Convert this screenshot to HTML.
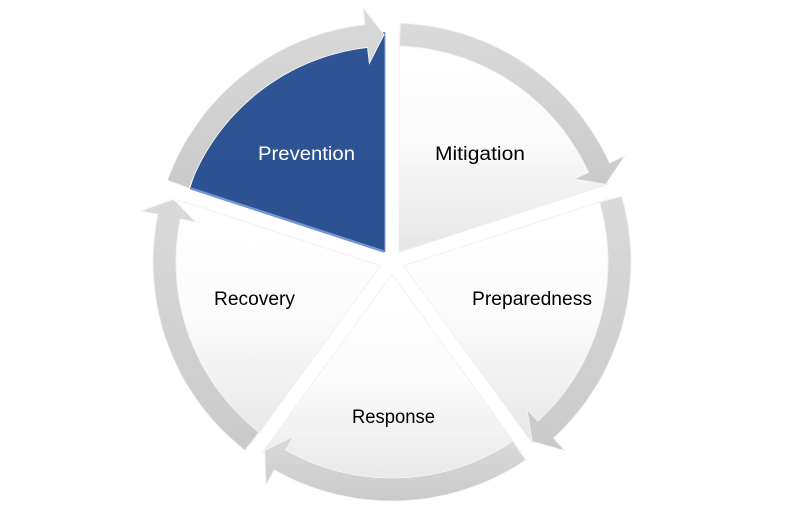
<!DOCTYPE html>
<html>
<head>
<meta charset="utf-8">
<style>
  html, body { margin:0; padding:0; background:#ffffff; }
  body { width:786px; height:524px; overflow:hidden; }
  svg { display:block; }
  text { font-family:"Liberation Sans", sans-serif; font-size:19px; }
</style>
</head>
<body>
<svg width="786" height="524" viewBox="0 0 786 524" xmlns="http://www.w3.org/2000/svg">
  <defs>
    <linearGradient id="lg" x1="0" y1="0" x2="0" y2="1">
      <stop offset="0" stop-color="#ffffff"/>
      <stop offset="0.5" stop-color="#fbfbfb"/>
      <stop offset="1" stop-color="#e6e6e6"/>
    </linearGradient>
    <linearGradient id="ag" x1="0" y1="0" x2="0" y2="1">
      <stop offset="0" stop-color="#dadada"/>
      <stop offset="1" stop-color="#cacaca"/>
    </linearGradient>
    <linearGradient id="bg" x1="0" y1="0" x2="0" y2="1">
      <stop offset="0" stop-color="#2f5597"/>
      <stop offset="1" stop-color="#2c5191"/>
    </linearGradient>
  </defs>

  <rect width="786" height="524" fill="#ffffff"/>

  <!-- wedges -->
  <path d="M399.05,252.29 L399.05,32.29 A220,220 0 0 1 608.28,184.31 Z" fill="url(#lg)" stroke="#efefef" stroke-width="0.8"/>
  <path d="M403.41,265.71 L612.64,197.73 A220,220 0 0 1 532.72,443.69 Z" fill="url(#lg)" stroke="#efefef" stroke-width="0.8"/>
  <path d="M392,274 L521.31,451.98 A220,220 0 0 1 262.69,451.98 Z" fill="url(#lg)" stroke="#efefef" stroke-width="0.8"/>
  <path d="M380.59,265.71 L251.28,443.69 A220,220 0 0 1 178,200 Z" fill="url(#lg)" stroke="#efefef" stroke-width="0.8"/>
  <path d="M384.95,252.29 L190,189 A220,220 0 0 1 384.95,32.29 Z" fill="url(#bg)"/>
  <!-- blue bevel highlights -->
  <line x1="191" y1="188.5" x2="384" y2="251.5" stroke="#7595d4" stroke-width="2.4"/>
  <line x1="385.2" y1="33" x2="385.2" y2="251.5" stroke="#a9c3ef" stroke-width="1.2"/>

  <!-- arrows -->
  <g fill="url(#ag)" stroke="#f3f3f3" stroke-width="0.9">
    <path d="M167.41,180.26 A239,239 0 0 1 364.95,24.54 L363.02,7.65 L384.06,34.64 L369.36,63.29 L367.55,47.39 A216,216 0 0 0 189.03,188.12 Z"/>
    <path d="M400.34,23.15 A239,239 0 0 1 609.48,162.89 L624.95,155.84 L605.78,184.19 L573.99,179.06 L588.55,172.43 A216,216 0 0 0 399.54,46.13 Z"/>
    <path d="M621.74,196.12 A239,239 0 0 1 553.47,438.21 L564.95,450.74 L532.06,441.27 L527.12,409.46 L537.93,421.25 A216,216 0 0 0 599.63,202.46 Z"/>
    <path d="M525.65,460.14 A239,239 0 0 1 274.31,470.02 L265.94,484.81 L264.78,450.61 L293.52,436.07 L285.64,450.0 A216,216 0 0 0 512.79,441.07 Z"/>
    <path d="M244.86,450.33 A239,239 0 0 1 157.8,214.35 L141.14,210.96 L173.31,199.29 L196.02,222.13 L180.34,218.94 A216,216 0 0 0 259.02,432.21 Z"/>
  </g>

  <!-- labels -->
  <text x="258" y="160" fill="#ffffff" textLength="97" lengthAdjust="spacingAndGlyphs">Prevention</text>
  <text x="435" y="160" fill="#000000" textLength="90" lengthAdjust="spacingAndGlyphs">Mitigation</text>
  <text x="214" y="305" fill="#000000" textLength="81" lengthAdjust="spacingAndGlyphs">Recovery</text>
  <text x="472" y="305" fill="#000000" textLength="120" lengthAdjust="spacingAndGlyphs">Preparedness</text>
  <text x="352" y="423" fill="#000000" textLength="83" lengthAdjust="spacingAndGlyphs">Response</text>
</svg>
</body>
</html>
